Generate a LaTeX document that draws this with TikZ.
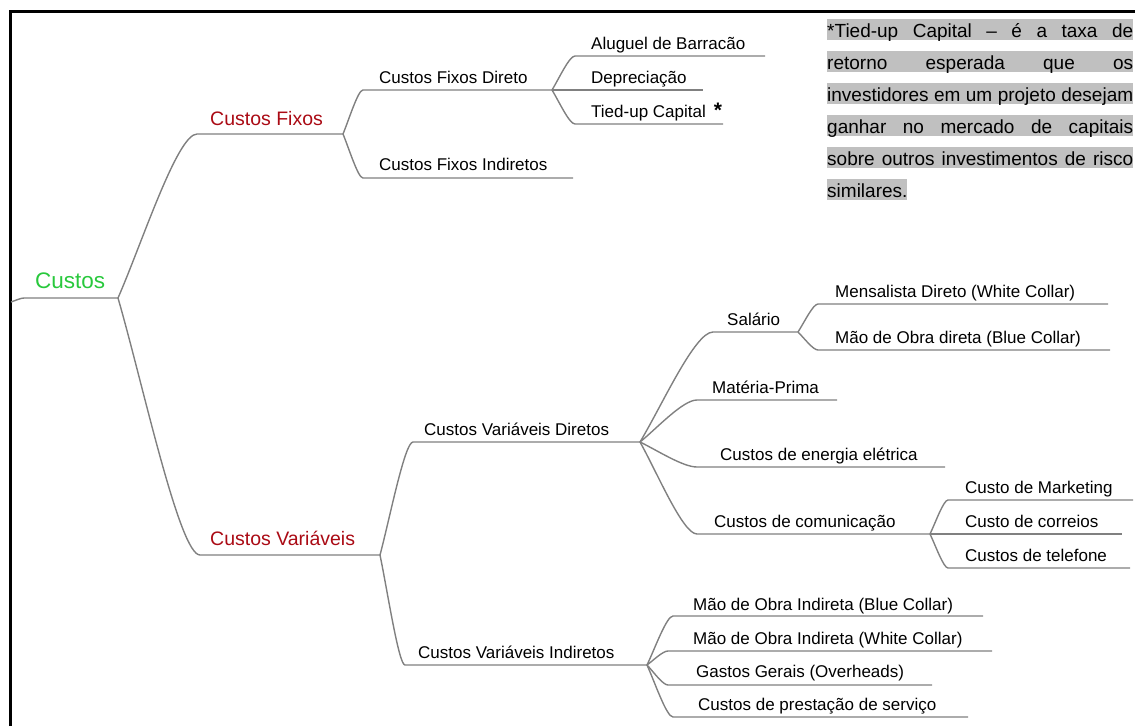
\documentclass[tikz,border=0pt]{standalone}
\usepackage{fontspec}
\setmainfont{Liberation Sans}
\usetikzlibrary{calc}
\definecolor{linegray}{RGB}{128,128,128}
\definecolor{rootgreen}{RGB}{40,200,60}
\definecolor{mainred}{RGB}{170,10,20}
\definecolor{notegray}{RGB}{192,192,192}
\begin{document}
\begin{tikzpicture}[x=1pt,y=-1pt,
  link/.style={draw=linegray, line width=1.4pt},
  branch/.style={to path={let \p1=(\tikztostart), \p2=(\tikztotarget) in
     .. controls ({\x1+0.3*(\x2-\x1)},{\y1+0.33*(\y2-\y1)})
        and ({\x1+0.75*(\x2-\x1)},\y2) .. (\tikztotarget)}},
  topic/.style={anchor=base west, inner sep=0pt, font=\fontsize{17}{20}\selectfont},
  maintopic/.style={topic, text=mainred, font=\fontsize{19.5}{22}\selectfont},
  roottopic/.style={topic, text=rootgreen, font=\fontsize{22.5}{26}\selectfont},
  noteline/.style={anchor=west, inner sep=0pt, fill=notegray, text height=18pt,
     text depth=3pt, font=\fontsize{19}{22}\selectfont}
]
\useasboundingbox (0,0) rectangle (1135,726);

% frame
\draw[line width=3pt] (10.5,726) -- (10.5,11.5) -- (1135,11.5);

% ---- root ----
\coordinate (rootin) at (11,302);
\coordinate (root-s) at (24,298);
\coordinate (root-e) at (118,298);
\node[roottopic] (custos) at (35,288) {Custos};
\draw[link] (rootin) to[branch] (root-s) -- (root-e);

% ---- Custos Fixos ----
\coordinate (cf-s) at (197,134); \coordinate (cf-e) at (343,134);
\node[maintopic] (cf) at (210,125) {Custos Fixos};
\draw[link] (root-e) to[branch] (cf-s) -- (cf-e);

\coordinate (cfd-s) at (363,90); \coordinate (cfd-e) at (552,90);
\node[topic] (cfd) at (379,83) {Custos Fixos Direto};
\draw[link] (cf-e) to[branch] (cfd-s) -- (cfd-e);

\coordinate (cfi-s) at (363,178); \coordinate (cfi-e) at (573,178);
\node[topic] (cfi) at (379,170) {Custos Fixos Indiretos};
\draw[link] (cf-e) to[branch] (cfi-s) -- (cfi-e);

\coordinate (al-s) at (575,56); \coordinate (al-e) at (765,56);
\node[topic] (al) at (591,49) {Aluguel de Barracão};
\draw[link] (cfd-e) to[branch] (al-s) -- (al-e);

\coordinate (dep-e) at (703,90);
\node[topic] (dep) at (591,83) {Depreciação};
\draw[link] (cfd-e) -- (dep-e);

\coordinate (tied-s) at (575,124); \coordinate (tied-e) at (723,124);
\node[topic] (tied) at (591,117) {Tied-up Capital\hspace{8pt}{\fontsize{21}{21}\selectfont\bfseries *}};
\draw[link] (cfd-e) to[branch] (tied-s) -- (tied-e);

% ---- Custos Variáveis ----
\coordinate (cv-s) at (200,555); \coordinate (cv-e) at (380,555);
\node[maintopic] (cv) at (210,545) {Custos Variáveis};
\draw[link] (root-e) to[branch] (cv-s) -- (cv-e);

\coordinate (cvd-s) at (413,442); \coordinate (cvd-e) at (640,442);
\node[topic] (cvd) at (424,435) {Custos Variáveis Diretos};
\draw[link] (cv-e) to[branch] (cvd-s) -- (cvd-e);

\coordinate (cvi-s) at (405,665); \coordinate (cvi-e) at (647,665);
\node[topic] (cvi) at (418,658) {Custos Variáveis Indiretos};
\draw[link] (cv-e) to[branch] (cvi-s) -- (cvi-e);

% direct variable costs
\coordinate (sal-s) at (713,332); \coordinate (sal-e) at (798,332);
\node[topic] (sal) at (727,325) {Salário};
\draw[link] (cvd-e) to[branch] (sal-s) -- (sal-e);

\coordinate (mp-s) at (697,400); \coordinate (mp-e) at (837,400);
\node[topic] (mp) at (712,393) {Matéria-Prima};
\draw[link] (cvd-e) to[branch] (mp-s) -- (mp-e);

\coordinate (en-s) at (697,467); \coordinate (en-e) at (945,467);
\node[topic] (en) at (720,460) {Custos de energia elétrica};
\draw[link] (cvd-e) to[branch] (en-s) -- (en-e);

\coordinate (com-s) at (697,534); \coordinate (com-e) at (930,534);
\node[topic] (com) at (714,527) {Custos de comunicação};
\draw[link] (cvd-e) to[branch] (com-s) -- (com-e);

% salary
\coordinate (men-s) at (818,304); \coordinate (men-e) at (1108,304);
\node[topic] (men) at (835,297) {Mensalista Direto (White Collar)};
\draw[link] (sal-e) to[branch] (men-s) -- (men-e);

\coordinate (mod-s) at (818,350); \coordinate (mod-e) at (1110,350);
\node[topic] (mod) at (835,343) {Mão de Obra direta (Blue Collar)};
\draw[link] (sal-e) to[branch] (mod-s) -- (mod-e);

% communication
\coordinate (mkt-s) at (948,500); \coordinate (mkt-e) at (1133,500);
\node[topic] (mkt) at (965,493) {Custo de Marketing};
\draw[link] (com-e) to[branch] (mkt-s) -- (mkt-e);

\coordinate (cor-e) at (1122,534);
\node[topic] (cor) at (965,527) {Custo de correios};
\draw[link] (com-e) -- (cor-e);

\coordinate (tel-s) at (948,568); \coordinate (tel-e) at (1130,568);
\node[topic] (tel) at (965,561) {Custos de telefone};
\draw[link] (com-e) to[branch] (tel-s) -- (tel-e);

% indirect variable costs
\coordinate (moib-s) at (673,616); \coordinate (moib-e) at (983,616);
\node[topic] (moib) at (693,610) {Mão de Obra Indireta (Blue Collar)};
\draw[link] (cvi-e) to[branch] (moib-s) -- (moib-e);

\coordinate (moiw-s) at (668,651); \coordinate (moiw-e) at (992,651);
\node[topic] (moiw) at (693,644) {Mão de Obra Indireta (White Collar)};
\draw[link] (cvi-e) to[branch] (moiw-s) -- (moiw-e);

\coordinate (gg-s) at (668,685); \coordinate (gg-e) at (932,685);
\node[topic] (gg) at (696,677) {Gastos Gerais (Overheads)};
\draw[link] (cvi-e) to[branch] (gg-s) -- (gg-e);

\coordinate (ps-s) at (673,717); \coordinate (ps-e) at (968,717);
\node[topic] (ps) at (698,710) {Custos de prestação de serviço};
\draw[link] (cvi-e) to[branch] (ps-s) -- (ps-e);

% ---- footnote on tied-up capital ----
\node[noteline] (n1) at (827,29.5)  {\makebox[306pt][s]{*Tied-up Capital – é a taxa de}};
\node[noteline] (n2) at (827,61.5)  {\makebox[306pt][s]{retorno esperada que os}};
\node[noteline] (n3) at (827,93.5)  {\makebox[306pt][s]{investidores em um projeto desejam}};
\node[noteline] (n4) at (827,125.5) {\makebox[306pt][s]{ganhar no mercado de capitais}};
\node[noteline] (n5) at (827,157.5) {\makebox[306pt][s]{sobre outros investimentos de risco}};
\node[noteline] (n6) at (827,189.5) {similares.};
\end{tikzpicture}
\end{document}
